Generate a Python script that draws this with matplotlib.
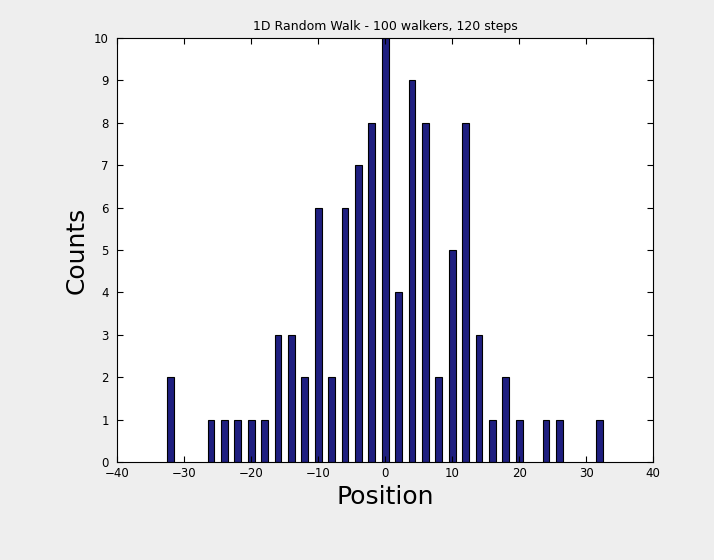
import matplotlib
matplotlib.use("Agg")
import matplotlib.pyplot as plt

positions = [-32, -26, -24, -22, -20, -18, -16, -14, -12, -10, -8, -6, -4, -2, 0, 2, 4, 6, 8, 10, 12, 14, 16, 18, 20, 24, 26, 32]
counts = [2, 1, 1, 1, 1, 1, 3, 3, 2, 6, 2, 6, 7, 8, 10, 4, 9, 8, 2, 5, 8, 3, 1, 2, 1, 1, 1, 1]
xticks = [-40, -30, -20, -10, 0, 10, 20, 30, 40]
yticks = list(range(0, 11))

fig = plt.figure(figsize=(7.14, 5.6), dpi=100, facecolor="#eeeeee")
ax = fig.add_axes([0.164, 0.175, 0.751, 0.757])
ax.set_facecolor("white")
ax.bar(positions, counts, width=1.0, color="#1f1f80", edgecolor="black", linewidth=0.8)
ax.set_xlim(-40, 40)
ax.set_ylim(0, 10)
ax.set_xticks(xticks)
ax.set_yticks(yticks)
ax.tick_params(direction="in", labelsize=8.5, top=True, right=True, length=4)
ax.tick_params(axis="y", pad=6)
for s in ax.spines.values():
    s.set_linewidth(0.8)
ax.set_title("1D Random Walk - 100 walkers, 120 steps", fontsize=9)
ax.set_xlabel("Position", fontsize=18)
ax.set_ylabel("Counts", fontsize=18)
fig.savefig("out.png", dpi=100, facecolor=fig.get_facecolor())
